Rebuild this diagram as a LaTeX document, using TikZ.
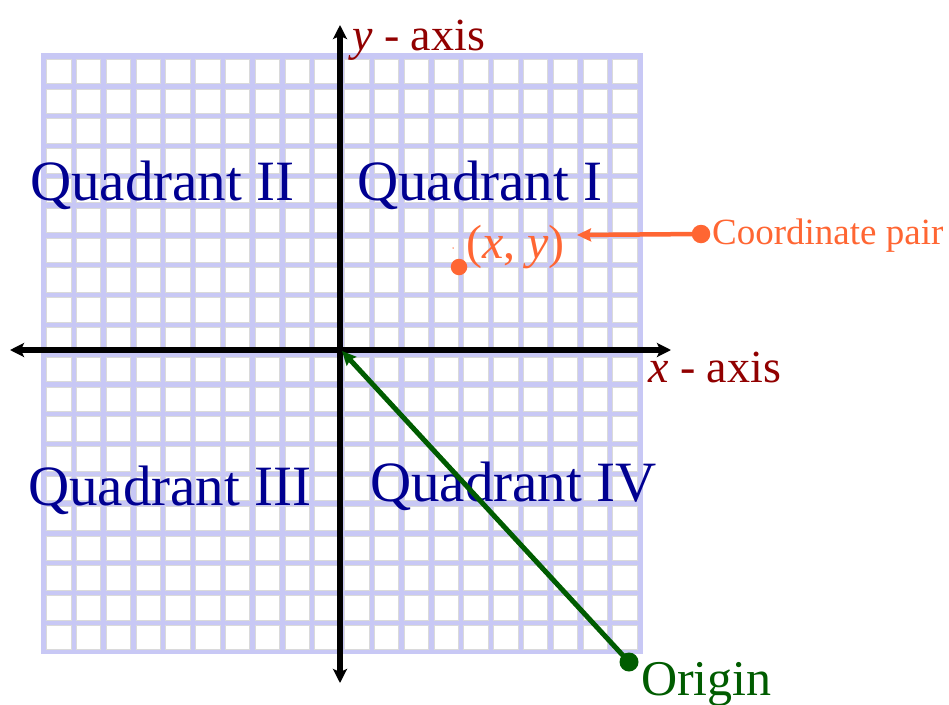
\documentclass[tikz,border=0pt]{standalone}
\usepackage{fontspec}
\setmainfont{Liberation Serif}
\usetikzlibrary{arrows.meta}
\definecolor{navytext}{RGB}{0,0,145}
\definecolor{axisred}{RGB}{145,0,0}
\definecolor{orangec}{RGB}{255,102,51}
\definecolor{greenc}{RGB}{0,92,0}
\definecolor{gridlav}{RGB}{200,200,245}
\definecolor{cellgray}{RGB}{218,218,218}
\tikzset{
  quadlabel/.style={anchor=base west,inner sep=0pt,text=navytext,font=\fontsize{57}{60}\selectfont},
  axislabel/.style={anchor=base west,inner sep=0pt,text=axisred,font=\fontsize{46}{50}\selectfont},
  axisline/.style={line width=5.5pt,black,{Stealth[length=14pt,width=14pt,inset=3pt]}-{Stealth[length=14pt,width=14pt,inset=3pt]}},
  dotnode/.style={circle,inner sep=0pt,minimum size=#1},
  orangearrow/.style={line width=4.5pt,orangec,-{Stealth[length=14pt,width=13pt,inset=2pt]}},
  greenarrow/.style={line width=5pt,greenc,-{Stealth[length=14pt,width=13pt,inset=2pt]}},
  cellbox/.style={fill=white,draw=cellgray,line width=1pt}
}
\begin{document}
\begin{tikzpicture}[x=1pt,y=-1pt]
\useasboundingbox (0,0) rectangle (949,704);
% grid
\fill[gridlav] (41,53) rectangle (643,654);
\foreach \i in {0,...,19}{
  \foreach \j in {0,...,19}{
    \filldraw[cellbox] ({46.7+29.8*\i},{59.3+29.8*\j}) rectangle ++(24.3,24.3);
  }
}
% axes
\coordinate (ytop) at (340,25);
\coordinate (ybot) at (340,683);
\coordinate (xleft) at (10,350);
\coordinate (xright) at (671,350);
\coordinate (O) at (342,351);
\draw[axisline] (ybot) -- (ytop);
\draw[axisline] (xleft) -- (xright);
% labels
\node[axislabel] (ylab) at (352,50) {\textit{y} - axis};
\node[axislabel] (xlab) at (648,382) {\textit{x} - axis};
\node[quadlabel] (q2) at (30,200) {Quadrant II};
\node[quadlabel] (q1) at (357,200) {Quadrant I};
\node[quadlabel] (q3) at (28,505) {Quadrant III};
\node[quadlabel] (q4) at (370,501) {Quadrant IV};
% point
\node[dotnode=16.5pt,fill=orangec] (pt) at (459,267) {};
\node[dotnode=1.5pt,fill=orangec] (speck) at (453,248) {};
\node[anchor=base west,inner sep=0pt,text=orangec,font=\fontsize{48}{52}\selectfont] (xy) at (466,258) {(\textit{x}, \textit{y})};
\node[dotnode=18.5pt,fill=orangec] (cpdot) at (701,234) {};
\coordinate (cptip) at (577,235);
\draw[orangearrow] (cpdot.center) -- (cptip);
\node[anchor=base west,inner sep=0pt,text=orangec,font=\fontsize{37}{40}\selectfont] (cplab) at (712,244) {Coordinate pair};
% origin
\node[dotnode=19pt,fill=greenc] (odot) at (629,662) {};
\draw[greenarrow] (odot.center) -- (O);
\node[anchor=base west,inner sep=0pt,text=greenc,font=\fontsize{50}{54}\selectfont] (olab) at (641,695) {Origin};
\end{tikzpicture}
\end{document}
